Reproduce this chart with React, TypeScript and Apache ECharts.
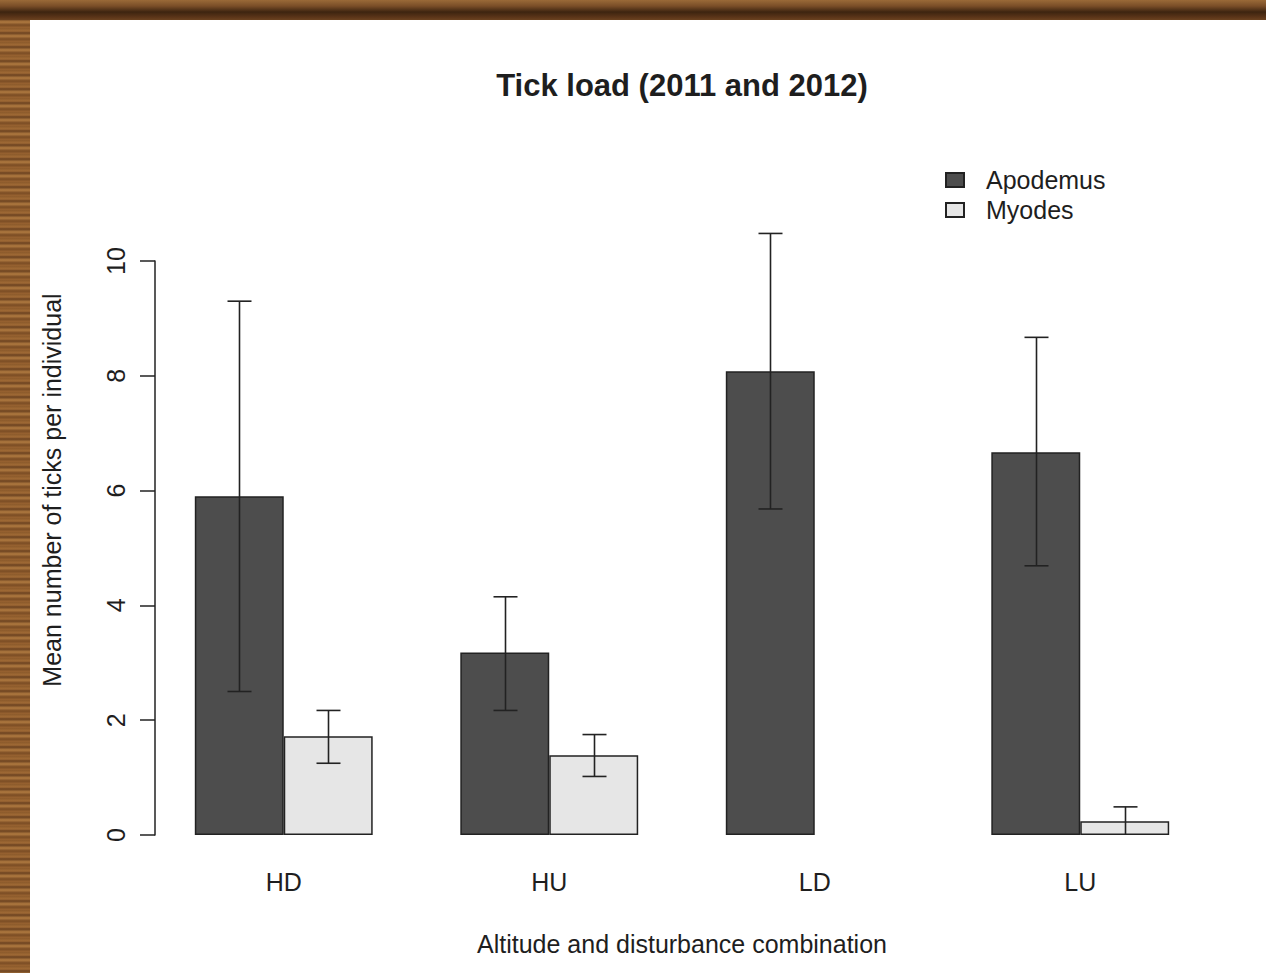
import React, { useEffect, useRef } from "react";
import * as echarts from "echarts";

const categories = ["HD", "HU", "LD", "LU"];
const seriesNames = ["Apodemus", "Myodes"];
const apodemusMean = [5.9, 3.18, 8.08, 6.67];
const apodemusLower = [2.5, 2.17, 5.68, 4.69];
const apodemusUpper = [9.3, 4.15, 10.48, 8.67];
const myodesMean = [1.72, 1.39, 0, 0.24];
const myodesLower = [1.25, 1.02, 0, 0];
const myodesUpper = [2.17, 1.75, 0, 0.49];
const yTicks = { min: 0, max: 10, interval: 2 };
const titleText = "Tick load (2011 and 2012)";
const xTitle = "Altitude and disturbance combination";
const yTitle = "Mean number of ticks per individual";

const FONT = "'Liberation Sans', Arial, sans-serif";
const TEXT = "#1e1e1e";
const CAT_GAP = 0.33;

function errorSeries(lower: number[], upper: number[], side: number) {
  return {
    type: "custom",
    clip: false,
    silent: true,
    z: 5,
    data: categories.map((_, i) => [i, lower[i], upper[i]]),
    renderItem: (params: any, api: any) => {
      const i = api.value(0);
      const lo = api.value(1);
      const hi = api.value(2);
      if (hi === lo) return { type: "group", children: [] };
      const band = api.size([1, 0])[0];
      const barW = (band * (1 - CAT_GAP)) / 2;
      const pLo = api.coord([i, lo]);
      const pHi = api.coord([i, hi]);
      const x = Math.round(pLo[0] + (side * barW) / 2) + 0.5;
      const cap = 12;
      const st = { stroke: "#222", lineWidth: 1.6 };
      const children: any[] = [
        { type: "line", shape: { x1: x, y1: pLo[1], x2: x, y2: pHi[1] }, style: st },
        { type: "line", shape: { x1: x - cap, y1: pHi[1], x2: x + cap, y2: pHi[1] }, style: st },
      ];
      if (lo > 0) {
        children.push({ type: "line", shape: { x1: x - cap, y1: pLo[1], x2: x + cap, y2: pLo[1] }, style: st });
      }
      return { type: "group", children };
    },
  };
}

export default function App() {
  const ref = useRef<HTMLDivElement>(null);
  useEffect(() => {
    if (!ref.current) return;
    const chart = echarts.init(ref.current, undefined, { renderer: "svg" });
    const barData = (vals: number[]) =>
      vals.map((v) => (v === 0 ? { value: v, itemStyle: { borderWidth: 0 } } : v));
    chart.setOption({
      animation: false,
      backgroundColor: "transparent",
      legend: {
        data: seriesNames,
        orient: "vertical",
        left: 940,
        top: 161,
        icon: "rect",
        itemWidth: 18,
        itemHeight: 14,
        itemGap: 2,
        textStyle: { fontFamily: FONT, fontSize: 25, color: TEXT, padding: [0, 0, 0, 17], lineHeight: 28 },
      },
      grid: { left: 151, width: 1062, top: 261, height: 574 },
      xAxis: {
        type: "category",
        data: categories,
        axisLine: { show: false },
        axisTick: { show: false },
        axisLabel: { margin: 34, fontFamily: FONT, fontSize: 25, color: TEXT },
      },
      yAxis: {
        type: "value",
        min: yTicks.min,
        max: yTicks.max,
        interval: yTicks.interval,
        offset: -4,
        splitLine: { show: false },
        axisLine: { show: true, lineStyle: { color: "#222", width: 1.5 } },
        axisTick: { show: true, length: 15, lineStyle: { color: "#222", width: 1.5 } },
        axisLabel: { rotate: 90, margin: 27, fontFamily: FONT, fontSize: 25, color: TEXT },
      },
      graphic: [
        {
          type: "text",
          x: 682,
          y: 85,
          style: {
            text: titleText,
            font: `bold 31px ${FONT}`,
            fill: TEXT,
            align: "center",
            verticalAlign: "middle",
          },
        },
        {
          type: "text",
          x: 682,
          y: 944,
          style: { text: xTitle, font: `25px ${FONT}`, fill: TEXT, align: "center", verticalAlign: "middle" },
        },
        {
          type: "text",
          x: 52,
          y: 490,
          rotation: Math.PI / 2,
          style: { text: yTitle, font: `25px ${FONT}`, fill: TEXT, align: "center", verticalAlign: "middle" },
        },
      ],
      series: [
        {
          name: seriesNames[0],
          type: "bar",
          data: barData(apodemusMean),
          barGap: "0%",
          barCategoryGap: `${CAT_GAP * 100}%`,
          itemStyle: { color: "#4d4d4d", borderColor: "#222", borderWidth: 1.5 },
        },
        {
          name: seriesNames[1],
          type: "bar",
          data: barData(myodesMean),
          barGap: "0%",
          barCategoryGap: `${CAT_GAP * 100}%`,
          itemStyle: { color: "#e6e6e6", borderColor: "#222", borderWidth: 1.5 },
        },
        errorSeries(apodemusLower, apodemusUpper, -1),
        errorSeries(myodesLower, myodesUpper, 1),
      ],
    });
    return () => chart.dispose();
  }, []);

  return (
    <div
      style={{
        position: "absolute",
        left: 0,
        top: 0,
        width: 1266,
        height: 973,
        background:
          "repeating-linear-gradient(180deg, #8b5a2b 0px, #a06a35 3px, #6b4220 5px, #b07a40 8px, #7a4c24 11px, #9a6431 14px)",
      }}
    >
      <div
        style={{
          position: "absolute",
          left: 0,
          top: 0,
          width: 1266,
          height: 20,
          background: "linear-gradient(180deg, #9a6a38 0px, #7a4e28 6px, #3d2410 12px, #5a3418 17px, #6b4220 20px)",
        }}
      />
      <div style={{ position: "absolute", left: 30, top: 20, width: 1236, height: 953, background: "#ffffff" }} />
      <div ref={ref} style={{ position: "absolute", left: 0, top: 0, width: 1266, height: 973 }} />
    </div>
  );
}
